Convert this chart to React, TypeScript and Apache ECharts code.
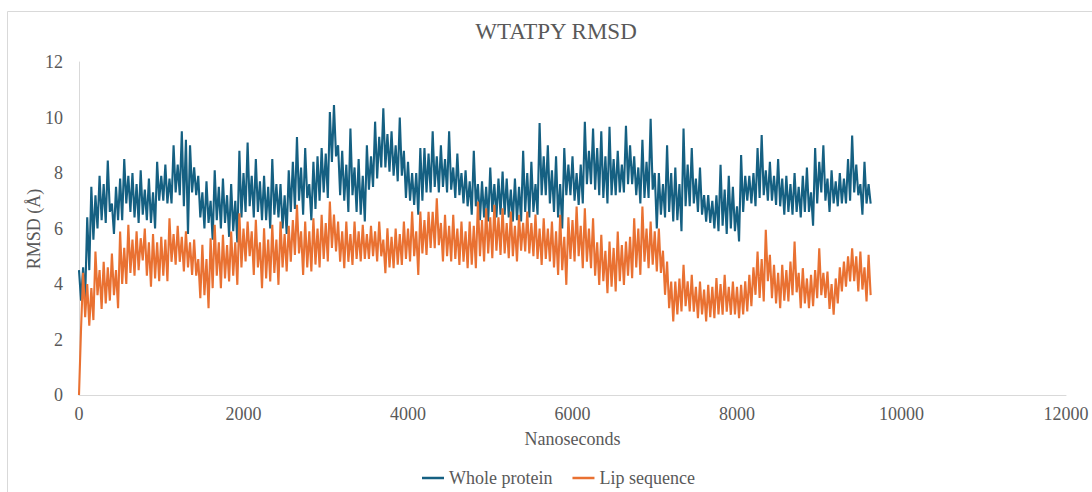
import { useEffect, useRef } from "react";
import * as echarts from "echarts";

const chartTitle = "WTATPY RMSD";
const xAxisName = "Nanoseconds";
const yAxisName = "RMSD (Å)";
const seriesNames = ["Whole protein", "Lip sequence"];
const seriesColors = ["#156082", "#E97132"];

// Trace read as upper / lower envelope per 50 ns frame window, 0 .. 9600 ns.
const frameStepNs = 50;

const wholeUpper = [
  4.5, 4.6, 6.4, 7.5, 7.2, 7.9, 7.6, 8.45, 6.9, 7.5,
  7.8, 8.5, 7.9, 8.0, 7.6, 8.1, 7.4, 7.8, 7.3, 8.4,
  7.9, 8.3, 7.8, 9.0, 8.3, 9.5, 9.2, 9.0, 8.2, 7.9,
  7.3, 7.7, 7.0, 8.1, 7.5, 7.8, 7.2, 7.6, 7.0, 8.8,
  8.0, 9.1, 7.9, 8.5, 7.7, 7.9, 7.5, 8.5, 7.6, 7.6,
  7.2, 8.1, 8.4, 9.3, 8.2, 8.9, 7.6, 8.4, 8.6, 8.9,
  8.7, 10.2, 10.45, 9.0, 8.8, 8.3, 9.6, 8.2, 8.5, 7.9,
  9.0, 8.6, 9.85, 9.3, 10.33, 9.4, 9.5, 9.0, 10.0, 8.8,
  8.4, 8.0, 8.0, 8.9, 8.9, 8.7, 9.5, 8.6, 9.0, 8.5,
  9.5, 8.2, 8.7, 8.0, 8.1, 7.7, 8.8, 7.6, 7.7, 7.5,
  8.2, 7.6, 7.8, 8.05, 7.8, 7.4, 7.8, 7.5, 8.8, 8.0,
  8.4, 7.6, 9.8, 8.6, 9.0, 8.1, 8.6, 7.6, 8.9, 8.3,
  8.6, 8.0, 8.3, 9.85, 8.8, 9.6, 8.9, 9.5, 8.6, 9.67,
  8.5, 8.8, 8.3, 9.7, 9.0, 8.6, 8.2, 9.2, 8.4, 9.95,
  8.0, 8.0, 7.6, 9.0, 8.0, 8.2, 7.6, 9.6, 8.3, 8.9,
  7.8, 8.2, 7.2, 7.2, 7.0, 7.2, 8.3, 7.4, 7.9, 7.5,
  6.8, 8.65, 7.9, 7.9, 8.0, 8.9, 9.37, 8.1, 8.4, 7.9,
  8.5, 7.8, 7.9, 7.6, 8.0, 7.5, 7.9, 8.2, 7.3, 8.9,
  8.4, 9.0, 7.8, 8.1, 7.7, 8.0, 7.8, 8.5, 9.35, 8.3,
  7.6, 8.4, 7.6,
];

const wholeLower = [
  3.4, 3.5, 4.5, 5.6, 6.0, 6.3, 6.2, 6.6, 5.8, 6.3,
  6.3, 6.9, 6.6, 6.4, 6.2, 6.5, 6.3, 6.2, 6.0, 7.0,
  7.0, 6.9, 6.9, 7.3, 7.2, 6.8, 5.8, 7.3, 7.2, 6.4,
  6.0, 6.2, 5.6, 6.3, 6.0, 6.2, 5.7, 5.9, 5.5, 6.4,
  6.6, 6.8, 6.4, 6.6, 6.3, 6.3, 6.0, 6.5, 6.4, 6.0,
  5.8, 6.6, 6.7, 7.0, 6.5, 7.1, 6.3, 6.7, 7.0, 7.3,
  7.1, 8.4, 8.6, 7.2, 7.0, 6.6, 7.2, 6.6, 6.5, 6.25,
  7.4, 7.5, 7.8, 8.2, 8.2, 8.05, 7.9, 7.7, 7.9, 7.1,
  7.0, 6.85, 6.5, 7.0, 7.3, 7.3, 7.5, 7.3, 7.5, 7.3,
  7.4, 7.1, 7.2, 6.9, 6.8, 6.5, 6.8, 6.3, 6.4, 6.25,
  6.6, 6.4, 6.5, 6.5, 6.4, 6.25, 6.3, 6.25, 6.6, 6.4,
  6.6, 6.5, 7.2, 7.2, 6.9, 6.6, 6.4, 6.0, 7.2, 7.2,
  7.0, 6.85, 6.9, 7.6, 7.6, 7.4, 7.2, 7.1, 6.9, 7.2,
  7.2, 7.3, 7.3, 7.6, 7.6, 7.2, 6.9, 7.1, 7.1, 7.4,
  6.0, 6.5, 6.4, 6.6, 6.25, 6.3, 5.9, 6.8, 6.8, 6.9,
  6.6, 6.5, 6.25, 6.2, 6.0, 5.9, 6.1, 5.8, 6.0, 5.9,
  5.53, 6.6, 7.0, 6.9, 6.8, 7.1, 7.2, 7.0, 7.0, 6.85,
  6.8, 6.5, 6.6, 6.5, 6.6, 6.4, 6.6, 6.6, 6.1, 6.9,
  7.3, 7.0, 6.6, 6.9, 6.8, 6.9, 6.9, 7.0, 7.3, 7.2,
  6.5, 6.9, 6.9,
];

const lipUpper = [
  0, 4.4, 4.0, 3.85, 5.17, 4.5, 4.8, 4.6, 5.1, 4.5,
  5.89, 5.3, 6.13, 5.6, 5.9, 5.65, 6.0, 5.5, 5.8, 5.5,
  5.7, 5.6, 6.37, 5.8, 6.1, 5.7, 5.9, 5.5, 5.6, 4.9,
  5.41, 4.9, 5.65, 6.13, 5.5, 5.77, 5.4, 5.89, 5.5, 6.55,
  6.0, 6.25, 5.9, 6.31, 5.5, 6.01, 5.6, 6.13, 5.6, 6.25,
  5.8, 6.1, 6.3, 6.85, 5.9, 6.25, 5.9, 6.37, 6.0, 6.49,
  6.2, 6.97, 6.5, 6.25, 5.9, 6.25, 5.8, 6.25, 5.9, 6.13,
  5.8, 6.1, 5.9, 6.25, 5.6, 6.01, 5.7, 6.0, 5.8, 6.25,
  6.0, 6.61, 5.9, 6.61, 6.3, 6.6, 6.6, 7.09, 6.2, 6.49,
  6.1, 6.49, 6.0, 6.25, 5.9, 6.25, 6.1, 6.97, 6.3, 6.73,
  6.4, 6.85, 6.4, 6.73, 6.2, 6.61, 6.1, 6.49, 6.2, 6.61,
  6.2, 6.5, 6.0, 6.37, 6.0, 6.25, 5.9, 6.49, 5.7, 6.4,
  6.3, 6.79, 6.1, 6.73, 6.0, 6.37, 5.5, 5.77, 5.2, 5.53,
  5.3, 5.89, 5.4, 5.53, 5.7, 6.37, 6.0, 6.79, 6.0, 6.25,
  5.9, 6.0, 5.2, 4.81, 4.09, 4.09, 4.2, 4.69, 4.1, 4.33,
  3.9, 4.09, 3.8, 3.97, 3.9, 4.21, 4.0, 4.33, 3.9, 4.09,
  3.9, 3.97, 4.1, 4.33, 4.6, 5.17, 4.9, 5.95, 5.05, 4.69,
  4.4, 4.69, 4.5, 4.81, 5.53, 4.4, 4.57, 4.2, 4.33, 4.5,
  5.29, 4.4, 4.45, 4.0, 4.2, 4.6, 4.81, 5.0, 5.29, 5.0,
  5.17, 4.6, 5.05,
];

const lipLower = [
  2.4, 2.8, 2.5, 2.7, 3.6, 3.1, 3.3, 3.4, 3.6, 3.13,
  4.0, 4.0, 4.4, 4.3, 4.5, 4.85, 4.3, 3.9, 4.2, 4.1,
  4.3, 4.1, 4.8, 4.7, 4.8, 4.45, 4.6, 4.33, 4.3, 3.49,
  3.6, 3.13, 3.85, 4.3, 3.85, 4.2, 4.09, 4.3, 3.97, 4.6,
  4.81, 5.0, 4.33, 4.6, 3.85, 4.2, 4.09, 4.4, 3.97, 4.6,
  4.45, 4.8, 5.05, 5.1, 4.33, 4.6, 4.45, 4.7, 4.6, 4.9,
  4.81, 5.3, 5.17, 4.8, 4.57, 4.8, 4.69, 4.9, 4.81, 4.9,
  4.9, 5.0, 4.81, 5.0, 4.39, 4.6, 4.57, 4.7, 4.69, 4.9,
  4.81, 5.0, 4.33, 5.1, 5.05, 5.3, 5.29, 5.4, 4.81, 5.0,
  4.81, 4.9, 4.69, 4.8, 4.57, 4.7, 4.57, 5.0, 4.81, 5.1,
  4.93, 5.2, 5.05, 5.1, 4.93, 5.0, 4.81, 5.2, 5.17, 5.1,
  5.0, 4.9, 4.69, 4.9, 4.81, 4.6, 4.33, 4.5, 3.97, 4.9,
  4.81, 5.0, 4.57, 4.8, 4.57, 4.3, 3.97, 4.1, 3.67, 3.9,
  3.73, 4.1, 3.97, 4.3, 4.21, 4.6, 4.33, 4.8, 4.57, 4.7,
  4.45, 4.4, 3.61, 3.13, 2.65, 2.9, 3.01, 3.2, 3.01, 3.0,
  2.77, 2.9, 2.65, 2.8, 2.77, 2.9, 2.89, 3.0, 2.89, 2.9,
  2.77, 2.9, 3.01, 3.2, 3.61, 3.5, 3.37, 4.1, 3.49, 3.3,
  3.13, 3.4, 3.37, 3.6, 3.7, 3.13, 3.3, 3.13, 3.2, 3.49,
  3.6, 3.5, 3.1, 2.89, 3.3, 3.73, 3.9, 4.09, 4.1, 3.73,
  3.8, 3.37, 3.6,
];

// Each frame window contributes its upper reading then its lower reading.
const traceFrom = (upper: number[], lower: number[]) => {
  const pts: number[][] = [];
  upper.forEach((u, i) => {
    pts.push([i * frameStepNs, u]);
    pts.push([i * frameStepNs + frameStepNs / 2, lower[i]]);
  });
  return pts;
};

const FONT = "'Liberation Serif', 'Times New Roman', serif";
const TEXT_COLOR = "#595959";
const AXIS_COLOR = "#d9d9d9";

export default function App() {
  const ref = useRef<HTMLDivElement>(null);

  useEffect(() => {
    if (!ref.current) return;
    const chart = echarts.init(ref.current, null, { renderer: "svg" });
    chart.setOption({
      animation: false,
      backgroundColor: "#ffffff",
      textStyle: { fontFamily: FONT },
      title: {
        text: chartTitle,
        left: 556,
        textAlign: "center",
        top: 20,
        padding: 0,
        textStyle: {
          fontFamily: FONT,
          fontSize: 23,
          fontWeight: "normal",
          color: TEXT_COLOR,
        },
      },
      graphic: [
        {
          type: "rect",
          silent: true,
          z: -10,
          shape: { x: 7.5, y: 11.5, width: 1100, height: 500 },
          style: { fill: "none", stroke: AXIS_COLOR, lineWidth: 1 },
        },
        {
          type: "text",
          silent: true,
          x: 34,
          y: 229,
          rotation: Math.PI / 2,
          style: {
            text: yAxisName,
            fontFamily: FONT,
            fontSize: 18,
            fill: TEXT_COLOR,
            align: "center",
            verticalAlign: "middle",
          },
        },
      ],
      grid: { left: 79, right: 26, top: 62, bottom: 97, containLabel: false },
      legend: {
        left: 422,
        bottom: 5,
        padding: 0,
        icon: "rect",
        itemWidth: 22,
        itemHeight: 2.5,
        itemGap: 20,
        textStyle: { fontFamily: FONT, fontSize: 18, color: TEXT_COLOR },
        data: seriesNames,
      },
      xAxis: {
        type: "value",
        min: 0,
        max: 12000,
        interval: 2000,
        name: xAxisName,
        nameLocation: "middle",
        nameGap: 35,
        nameTextStyle: { fontFamily: FONT, fontSize: 18, color: TEXT_COLOR },
        axisLine: { show: true, lineStyle: { color: AXIS_COLOR, width: 1 } },
        axisTick: { show: false },
        splitLine: { show: false },
        axisLabel: {
          color: TEXT_COLOR,
          fontFamily: FONT,
          fontSize: 18,
          margin: 10,
          formatter: (v: number) => String(v),
        },
      },
      yAxis: {
        type: "value",
        min: 0,
        max: 12,
        interval: 2,
        axisLine: { show: true, lineStyle: { color: AXIS_COLOR, width: 1 } },
        axisTick: { show: false },
        splitLine: { show: false },
        axisLabel: { color: TEXT_COLOR, fontFamily: FONT, fontSize: 18, margin: 16 },
      },
      series: [
        {
          name: seriesNames[0],
          type: "line",
          symbol: "none",
          color: seriesColors[0],
          lineStyle: { width: 2.1, color: seriesColors[0] },
          data: traceFrom(wholeUpper, wholeLower),
        },
        {
          name: seriesNames[1],
          type: "line",
          symbol: "none",
          color: seriesColors[1],
          lineStyle: { width: 2.1, color: seriesColors[1] },
          data: traceFrom(lipUpper, lipLower),
        },
      ],
    });
    return () => chart.dispose();
  }, []);

  return (
    <div
      ref={ref}
      style={{
        position: "fixed",
        left: 0,
        top: 0,
        width: 1092,
        height: 492,
        background: "#ffffff",
      }}
    />
  );
}
